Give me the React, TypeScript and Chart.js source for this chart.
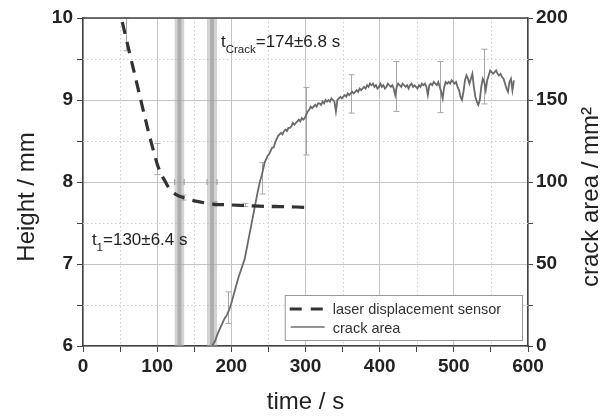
import React, { useEffect, useRef } from "react";
import { Chart, registerables } from "chart.js";
Chart.register(...registerables);

// ---- data ----
const laserTime = [53, 60, 70, 80, 90, 100, 105, 110, 117, 125, 135, 150, 175, 200, 225, 250, 275, 300];
const laserHeight = [9.95, 9.68, 9.3, 8.92, 8.55, 8.22, 8.1, 8.02, 7.91, 7.85, 7.81, 7.77, 7.73, 7.72, 7.71, 7.7, 7.7, 7.69];

const laserErrTime = [58, 100, 135, 176, 218, 258];
const laserErrLow = [9.6, 8.09, 7.78, 7.7, 7.7, 7.69];
const laserErrHigh = [10.0, 8.47, 7.84, 7.76, 7.74, 7.72];

const crackTime = [
  174, 178, 182, 186, 190, 194, 197, 200, 203, 206, 209, 212, 215, 218, 221, 224, 227, 230, 233, 236,
  239, 241, 243, 245, 247, 249, 251, 253, 255, 257, 259, 261, 263, 265, 267, 269, 271, 273, 275, 277,
  279, 281, 283, 285, 287, 289, 291, 293, 295, 297, 299, 301, 303, 305, 307, 309, 311, 313, 315, 317,
  319, 321, 323, 325, 327, 329, 331, 333, 335, 337, 339, 341, 343, 345, 347, 349, 351, 353, 355, 357,
  359, 361, 363, 365, 367, 369, 371, 373, 375, 377, 379, 381, 383, 385, 387, 389, 391, 393, 395, 397,
  399, 401, 403, 405, 407, 409, 411, 413, 415, 417, 419, 421, 423, 425, 427, 429, 431, 433, 435, 437,
  439, 441, 443, 445, 447, 449, 451, 453, 455, 457, 459, 461, 463, 465, 467, 469, 471, 473, 475, 477,
  479, 481, 483, 485, 487, 489, 491, 493, 495, 497, 499, 501, 503, 505, 507, 509, 511, 513, 515, 517,
  519, 521, 523, 525, 527, 529, 531, 533, 535, 537, 539, 541, 543, 545, 547, 549, 551, 553, 555, 557,
  559, 561, 563, 565, 567, 569, 571, 573, 575, 577, 579, 581,
];
const crackArea = [
  0, 3, 8, 12, 16, 19, 22, 26, 31, 36, 41, 45, 49, 53, 60, 67, 74, 81, 88, 95,
  101, 104, 108, 112, 114, 116, 117, 119, 121, 121, 124, 126, 128, 129, 130, 129, 131, 132, 131, 133,
  133, 134, 136, 135, 136, 137, 138, 137, 139, 138, 139, 141, 143, 144, 146, 145, 146, 147, 146, 148,
  148, 147, 149, 148, 150, 149, 150, 149, 151, 150, 149, 143, 150, 151, 152, 151, 152, 153, 152, 154,
  153, 154, 155, 154, 155, 156, 155, 157, 156, 157, 158, 157, 159, 158, 160, 159, 160, 158, 159, 157,
  158, 160, 158, 159, 157, 158, 160, 159, 158, 159, 157, 153, 158, 160, 159, 158, 160, 159, 158, 159,
  157, 159, 160, 158, 159, 158, 157, 159, 158, 160, 159, 160, 158, 153, 159, 160, 159, 161, 160, 159,
  161, 158, 155, 151, 158, 161, 160, 161, 160, 162, 161, 160, 161, 158, 156, 152, 150, 155, 162, 165,
  163, 160, 163, 166, 158, 152, 149, 147, 150, 158, 163, 161, 156, 162, 165, 168, 167, 166, 167, 168,
  166, 165, 166, 164, 163, 160, 157, 155, 161, 163, 156, 162,
];

const crackErrTime = [196, 241, 301, 362, 422, 482, 541];
const crackErrLow = [13.7, 92.7, 116.5, 142, 143, 142.3, 147.6];
const crackErrHigh = [33, 111.8, 157.6, 165.4, 173.5, 173.5, 181];

const eventTimes = [130, 174];
const eventSigma = [6.4, 6.8];
const eventCapHeight = 8.0;

const seriesNames = ["laser displacement sensor", "crack area"];
const xTitle = "time / s";
const yTitle = "Height / mm";
const y2Title = "crack area / mm²";

const FONT = "'Liberation Sans', Arial, Helvetica, sans-serif";

const decor = {
  id: "decor",
  beforeDatasetsDraw(chart: any) {
    const { ctx, chartArea, scales } = chart;
    const { left, right, top, bottom } = chartArea;
    const x = scales.x, y = scales.y, y2 = scales.y2;
    ctx.save();
    // minor dotted grid
    ctx.strokeStyle = "#cfcfcf";
    ctx.lineWidth = 1;
    ctx.setLineDash([1.5, 2.5]);
    x.ticks.forEach((t: any) => {
      if (t.value % 100 !== 0) {
        const px = Math.round(x.getPixelForValue(t.value)) + 0.5;
        ctx.beginPath(); ctx.moveTo(px, top); ctx.lineTo(px, bottom); ctx.stroke();
      }
    });
    y.ticks.forEach((t: any) => {
      if (Math.abs(t.value - Math.round(t.value)) > 0.01) {
        const py = Math.round(y.getPixelForValue(t.value)) + 0.5;
        ctx.beginPath(); ctx.moveTo(left, py); ctx.lineTo(right, py); ctx.stroke();
      }
    });
    ctx.setLineDash([]);
    // event bands
    eventTimes.forEach((t, i) => {
      const a = x.getPixelForValue(t - eventSigma[i]);
      const b = x.getPixelForValue(t + eventSigma[i]);
      ctx.fillStyle = "rgba(175,175,175,0.55)";
      ctx.fillRect(a, top, b - a, bottom - top);
      const c = x.getPixelForValue(t);
      ctx.fillStyle = "rgba(150,150,150,0.6)";
      ctx.fillRect(c - 2, top, 4, bottom - top);
      // caps of horizontal error bar
      const cy = y.getPixelForValue(eventCapHeight);
      ctx.strokeStyle = "#999";
      ctx.lineWidth = 1;
      [a, b].forEach((p) => {
        ctx.beginPath(); ctx.moveTo(p, cy - 3); ctx.lineTo(p, cy + 3); ctx.stroke();
      });
    });
    // error bars
    const drawErr = (scale: any, xs: number[], lo: number[], hi: number[]) => {
      ctx.strokeStyle = "#a8a8a8";
      ctx.lineWidth = 1;
      xs.forEach((t, i) => {
        const px = Math.round(x.getPixelForValue(t)) + 0.5;
        const p1 = scale.getPixelForValue(lo[i]);
        const p2 = scale.getPixelForValue(hi[i]);
        ctx.beginPath();
        ctx.moveTo(px, p1); ctx.lineTo(px, p2);
        ctx.moveTo(px - 3, p1); ctx.lineTo(px + 3, p1);
        ctx.moveTo(px - 3, p2); ctx.lineTo(px + 3, p2);
        ctx.stroke();
      });
    };
    drawErr(y, laserErrTime, laserErrLow, laserErrHigh);
    drawErr(y2, crackErrTime, crackErrLow, crackErrHigh);
    ctx.restore();
  },
  afterDraw(chart: any) {
    const { ctx, chartArea, scales } = chart;
    const { left, right, top, bottom } = chartArea;
    const x = scales.x;
    ctx.save();
    // top frame
    ctx.strokeStyle = "#444";
    ctx.lineWidth = 1.5;
    ctx.beginPath(); ctx.moveTo(left, top); ctx.lineTo(right, top); ctx.stroke();

    // annotations
    ctx.fillStyle = "#222";
    ctx.textAlign = "left";
    ctx.textBaseline = "alphabetic";
    const drawSub = (xp: number, yp: number, sub: string, rest: string) => {
      ctx.font = `17px ${FONT}`;
      ctx.fillText("t", xp, yp);
      let cx = xp + ctx.measureText("t").width;
      ctx.font = `11.5px ${FONT}`;
      ctx.fillText(sub, cx, yp + 6);
      cx += ctx.measureText(sub).width;
      ctx.font = `17px ${FONT}`;
      ctx.fillText(rest, cx, yp);
    };
    drawSub(x.getPixelForValue(186), 47, "Crack", "=174±6.8 s");
    drawSub(x.getPixelForValue(12), 245, "1", "=130±6.4 s");

    // legend
    const lx = x.getPixelForValue(272);
    const lr = right - 6;
    const ly = bottom - 51;
    const lb = bottom - 6;
    ctx.fillStyle = "#fff";
    ctx.fillRect(lx, ly, lr - lx, lb - ly);
    ctx.strokeStyle = "#999";
    ctx.lineWidth = 1;
    ctx.strokeRect(lx + 0.5, ly + 0.5, lr - lx, lb - ly);
    ctx.strokeStyle = "#333";
    ctx.lineWidth = 3;
    ctx.setLineDash([12, 9]);
    ctx.beginPath(); ctx.moveTo(lx + 5, ly + 14); ctx.lineTo(lx + 41, ly + 14); ctx.stroke();
    ctx.setLineDash([]);
    ctx.strokeStyle = "#707070";
    ctx.lineWidth = 1.5;
    ctx.beginPath(); ctx.moveTo(lx + 6, ly + 32); ctx.lineTo(lx + 40, ly + 32); ctx.stroke();
    ctx.fillStyle = "#333";
    ctx.font = `14.5px ${FONT}`;
    ctx.fillText(seriesNames[0], lx + 48, ly + 19);
    ctx.fillText(seriesNames[1], lx + 48, ly + 38);

    // axis titles
    ctx.fillStyle = "#222";
    ctx.font = `24px ${FONT}`;
    ctx.textAlign = "center";
    ctx.fillText(xTitle, (left + right) / 2, 409);
    ctx.save();
    ctx.translate(34, 197);
    ctx.rotate(-Math.PI / 2);
    ctx.fillText(yTitle, 0, 0);
    ctx.restore();
    ctx.save();
    ctx.translate(598, 197);
    ctx.rotate(-Math.PI / 2);
    ctx.fillText(y2Title, 0, 0);
    ctx.restore();
    ctx.restore();
  },
};

export default function App() {
  const ref = useRef<HTMLCanvasElement | null>(null);
  useEffect(() => {
    if (!ref.current) return;
    const tickFont = { family: FONT, size: 19, weight: "bold" as const };
    const chart = new Chart(ref.current, {
      type: "line",
      data: {
        datasets: [
          {
            label: seriesNames[0],
            data: laserTime.map((t, i) => ({ x: t, y: laserHeight[i] })),
            yAxisID: "y",
            borderColor: "#333",
            borderWidth: 3.2,
            borderDash: [12, 8],
            pointRadius: 0,
            tension: 0.2,
            fill: false,
          },
          {
            label: seriesNames[1],
            data: crackTime.map((t, i) => ({ x: t, y: crackArea[i] })),
            yAxisID: "y2",
            borderColor: "#6a6a6a",
            borderWidth: 1.8,
            pointRadius: 0,
            tension: 0,
            fill: false,
          },
        ],
      },
      options: {
        animation: false,
        responsive: false,
        devicePixelRatio: 1,
        layout: { padding: { top: 18, left: 0, right: 0, bottom: 0 } },
        plugins: { legend: { display: false }, tooltip: { enabled: false }, title: { display: false } },
        scales: {
          x: {
            type: "linear",
            min: 0,
            max: 600,
            afterFit: (s: any) => { s.height = 70; },
            ticks: {
              stepSize: 50,
              autoSkip: false,
              maxRotation: 0,
              padding: 3,
              color: "#222",
              font: tickFont,
              callback: (v: any) => (v % 100 === 0 ? String(v) : ""),
            },
            grid: {
              color: (c: any) => (c.tick && c.tick.value % 100 === 0 ? "#c4c4c4" : "rgba(0,0,0,0)"),
              tickColor: "#444",
              tickLength: 6,
              lineWidth: 1,
            },
            border: { color: "#444", width: 1.5 },
          },
          y: {
            type: "linear",
            position: "left",
            min: 6,
            max: 10,
            afterFit: (s: any) => { s.width = 83; },
            ticks: {
              stepSize: 0.5,
              autoSkip: false,
              padding: 4,
              color: "#222",
              font: tickFont,
              callback: (v: any) => (Math.abs(v - Math.round(v)) < 0.01 ? String(Math.round(v)) : ""),
            },
            grid: {
              color: (c: any) =>
                c.tick && Math.abs(c.tick.value - Math.round(c.tick.value)) < 0.01 ? "#c4c4c4" : "rgba(0,0,0,0)",
              tickColor: "#444",
              tickLength: 6,
            },
            border: { color: "#444", width: 1.5 },
          },
          y2: {
            type: "linear",
            position: "right",
            min: 0,
            max: 200,
            afterFit: (s: any) => { s.width = 78; },
            ticks: {
              stepSize: 25,
              autoSkip: false,
              padding: 3,
              color: "#222",
              font: tickFont,
              callback: (v: any) => (v % 50 === 0 ? String(v) : ""),
            },
            grid: { drawOnChartArea: false, tickColor: "#444", tickLength: 5 },
            border: { color: "#444", width: 1.5 },
          },
        },
      },
      plugins: [decor],
    });
    return () => chart.destroy();
  }, []);
  return (
    <div style={{ position: "fixed", left: 0, top: 0, width: 606, height: 416, background: "#fff" }}>
      <canvas ref={ref} width={606} height={416} style={{ width: 606, height: 416, display: "block" }} />
    </div>
  );
}
